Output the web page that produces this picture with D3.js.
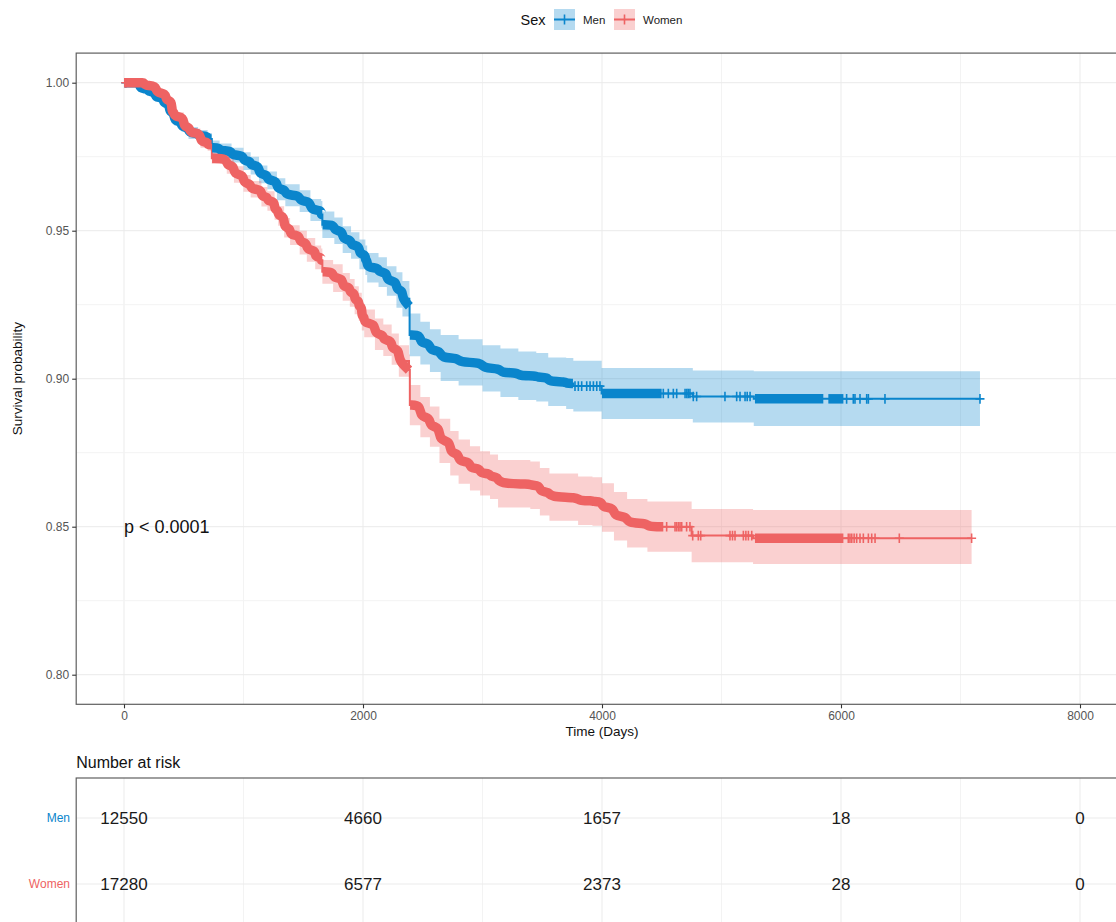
<!DOCTYPE html>
<html>
<head>
<meta charset="utf-8">
<script src="https://cdn.jsdelivr.net/npm/d3@7"></script>
<style>
  body { margin: 0; background: #fff; }
  text { font-family: "Liberation Sans", Arial, Helvetica, sans-serif; }
</style>
</head>
<body>
<div id="chart"></div>
<script>
// ---- data ----
var groups = ["Men", "Women"];
var colors = ["#0A85CC", "#EE6363"];

var menTime = [0, 100, 130, 200, 260, 330, 380, 420, 480, 540, 620, 700, 735, 800, 900, 1000, 1060, 1130, 1200, 1280,
  1350, 1470, 1560, 1650, 1660, 1760, 1830, 1900, 1970, 2020, 2035, 2130, 2200, 2280, 2330, 2388, 2390, 2480, 2560, 2650,
  2800, 3000, 3150, 3300, 3450, 3550, 3700, 3760, 3997, 4760, 5270, 7163];
var menSurv = [1, 1, .998, .997, .995, .993, .990, .987, .985, .983, .982, .981, .978, .977, .9755, .9735, .972, .969, .967, .964,
  .962, .960, .957, .9555, .952, .950, .947, .945, .942, .940, .9375, .936, .933, .930, .927, .9245, .9148, .912, .9095, .907,
  .9055, .9035, .902, .901, .9005, .899, .8984, .8975, .8950, .8940, .8932, .8932];
var menLower = [1, .9995, .997, .996, .994, .9915, .9885, .9855, .9835, .981, .980, .979, .9755, .9745, .973, .9705, .969, .966, .964, .9603,
  .9583, .9563, .9533, .951, .9475, .9455, .9425, .9405, .937, .935, .9325, .931, .928, .924, .921, .9185, .9076, .9048, .9023, .8992,
  .8977, .8957, .8938, .8928, .8923, .8908, .8898, .8889, .8864, .8852, .8840, .8840];
var menUpper = [1, 1, .999, .998, .996, .9945, .9915, .9885, .9865, .985, .984, .983, .9805, .9795, .978, .9765, .975, .972, .970, .9677,
  .9657, .9637, .9607, .960, .9565, .9545, .9515, .9495, .947, .945, .9425, .941, .938, .936, .933, .9305, .922, .9192, .9167, .9148,
  .9133, .9113, .9102, .9092, .9087, .9072, .907, .9061, .9036, .9028, .9025, .9025];

var womenTime = [0, 150, 170, 270, 350, 400, 420, 500, 550, 640, 700, 735, 860, 920, 1000, 1060, 1150, 1200, 1260, 1290,
  1340, 1390, 1470, 1530, 1600, 1650, 1660, 1750, 1830, 1890, 1930, 1965, 1990, 2010, 2100, 2170, 2240, 2300, 2385, 2392,
  2480, 2560, 2640, 2730, 2800, 2895, 2980, 3063, 3130, 3400, 3480, 3560, 3800, 3920, 4000, 4100, 4210, 4380, 4750, 5264, 7093];
var womenSurv = [1, 1, .999, .9965, .994, .990, .9885, .985, .983, .980, .979, .9745, .972, .969, .966, .964, .9615, .960, .957, .955,
  .951, .9485, .946, .9435, .941, .940, .9361, .934, .931, .929, .9265, .9243, .921, .9187, .915, .913, .910, .906, .9029, .8911,
  .887, .8838, .879, .8748, .872, .8697, .868, .8669, .8645, .864, .8618, .860, .8588, .8585, .8565, .8535, .8512, .850, .8470, .8461, .8461];
var womenLower = [1, .9995, .998, .9955, .993, .9885, .987, .9835, .9815, .978, .977, .9725, .9692, .9662, .9632, .9612, .9582, .9567, .9537, .9517,
  .9477, .9452, .942, .9395, .937, .936, .9321, .9293, .9263, .9243, .9218, .9196, .9163, .914, .9097, .9077, .9047, .9007, .8976, .8843,
  .8802, .877, .8715, .8673, .8645, .8622, .8605, .8594, .8565, .856, .8538, .852, .8506, .8503, .8483, .8453, .843, .8415, .838, .8374, .8374];
var womenUpper = [1, 1, 1, .9975, .995, .9915, .990, .9865, .9845, .982, .981, .9765, .9748, .9718, .9688, .9668, .9648, .9633, .9603, .9583,
  .9543, .9518, .950, .9475, .945, .944, .9401, .9387, .9357, .9337, .9312, .929, .9257, .9234, .9203, .9183, .9153, .9113, .9082, .8979,
  .8938, .8906, .8865, .8823, .8795, .8772, .8755, .8744, .8725, .872, .8698, .868, .867, .8667, .8647, .8617, .8594, .8585, .856, .8556, .8556];

// censoring: stretches where the "+" marks run together, then the single marks
var menCensorRuns = [[0, 733], [737, 1658], [1662, 2388], [2392, 3757], [4000, 4499], [5280, 5852], [5894, 6020]];
var menCensor = [15, 3774, 3802, 3830, 3872, 3900, 3928, 3956, 3983, 4513, 4555, 4597, 4625, 4695, 4710, 4722, 4736, 4764, 4792,
  5029, 5127, 5155, 5197, 5215, 5239, 6047, 6103, 6117, 6159, 6215, 6229, 6368, 7163];
var womenCensorRuns = [[0, 733], [737, 1658], [1662, 2385], [2394, 4513], [5280, 6020]];
var womenCensor = [15, 4541, 4611, 4625, 4640, 4653, 4667, 4708, 4736, 4759, 4806, 4826, 5071, 5092, 5113, 5183, 5204, 5225, 5253,
  6061, 6075, 6090, 6110, 6131, 6159, 6187, 6229, 6257, 6285, 6488, 7093];

var xTicks = [0, 2000, 4000, 6000, 8000];
var yTicks = [0.80, 0.85, 0.90, 0.95, 1.00];
var riskTimes = [0, 2000, 4000, 6000, 8000];
var menRisk = [12550, 4660, 1657, 18, 0];
var womenRisk = [17280, 6577, 2373, 28, 0];
var pText = "p < 0.0001";

var series = [
  {name: groups[0], color: colors[0], time: menTime, surv: menSurv, lo: menLower, hi: menUpper, runs: menCensorRuns, cens: menCensor, risk: menRisk},
  {name: groups[1], color: colors[1], time: womenTime, surv: womenSurv, lo: womenLower, hi: womenUpper, runs: womenCensorRuns, cens: womenCensor, risk: womenRisk}
];

// ---- layout ----
var W = 1116, H = 922;
var x = d3.scaleLinear().domain([0, 8000]).range([124, 1080]);
var y = d3.scaleLinear().domain([0.8, 1.0]).range([674.7, 82.7]);
var pLeft = x(-400), pRight = x(8400), pTop = y(1.01), pBottom = y(0.79);
var tblTop = 778, tblBottom = 960;
var rowY = d3.scalePoint().domain(groups).range([818, 884]);

var svg = d3.select("#chart").append("svg")
  .attr("width", W).attr("height", H);

svg.append("defs").append("clipPath").attr("id", "clip")
  .append("rect").attr("x", pLeft).attr("y", pTop).attr("width", pRight - pLeft).attr("height", pBottom - pTop);

// grid
var grid = svg.append("g");
d3.range(0, 8001, 1000).forEach(function(t) {
  var c = t % 2000 ? "#F3F3F3" : "#EBEBEB";
  grid.append("line").attr("x1", x(t)).attr("x2", x(t)).attr("y1", pTop).attr("y2", pBottom)
    .style("stroke", c).style("stroke-width", 1);
  grid.append("line").attr("x1", x(t)).attr("x2", x(t)).attr("y1", tblTop).attr("y2", tblBottom)
    .style("stroke", c).style("stroke-width", 1);
});
[0.8, 0.825, 0.85, 0.875, 0.9, 0.925, 0.95, 0.975, 1.0].forEach(function(v, i) {
  grid.append("line").attr("x1", pLeft).attr("x2", pRight).attr("y1", y(v)).attr("y2", y(v))
    .style("stroke", i % 2 ? "#F3F3F3" : "#EBEBEB").style("stroke-width", 1);
});
groups.forEach(function(g) {
  grid.append("line").attr("x1", pLeft).attr("x2", pRight).attr("y1", rowY(g)).attr("y2", rowY(g))
    .style("stroke", "#EBEBEB").style("stroke-width", 1);
});

var plot = svg.append("g").attr("clip-path", "url(#clip)");

function pts(s) {
  return s.time.map(function(t, i) { return {t: t, v: s.surv[i], lo: s.lo[i], hi: s.hi[i]}; });
}
function survAt(s, t) {
  var v = s.surv[0];
  for (var i = 0; i < s.time.length; i++) if (s.time[i] <= t) v = s.surv[i];
  return v;
}
// step corners inside a run of censor marks
function runPts(s, a, b) {
  var out = [{t: a, v: survAt(s, a)}];
  var prev = out[0].v;
  s.time.forEach(function(t, i) {
    if (t > a && t < b) {
      out.push({t: t, v: prev});
      out.push({t: t, v: s.surv[i]});
      prev = s.surv[i];
    }
  });
  out.push({t: b, v: survAt(s, b)});
  return out;
}

var area = d3.area().curve(d3.curveStepAfter)
  .x(function(d) { return x(d.t); })
  .y0(function(d) { return y(d.lo); })
  .y1(function(d) { return y(d.hi); });
var line = d3.line().curve(d3.curveStepAfter)
  .x(function(d) { return x(d.t); })
  .y(function(d) { return y(d.v); });
// the marks sit so close that they blur into one thick stroke along the steps
var runLine = d3.line().curve(d3.curveBasis)
  .x(function(d) { return x(d.t); })
  .y(function(d) { return y(d.v); });

// confidence bands
series.forEach(function(s) {
  plot.append("path").datum(pts(s)).attr("d", area)
    .style("fill", s.color).style("fill-opacity", 0.3).style("stroke", "none");
});
// survival steps
series.forEach(function(s) {
  plot.append("path").datum(pts(s)).attr("d", line)
    .style("fill", "none").style("stroke", s.color).style("stroke-width", 2);
});
// censor marks
var plus = "M-4.5,0H4.5M0,-4.8V4.8";
series.forEach(function(s) {
  s.runs.forEach(function(r) {
    plot.append("path").datum(runPts(s, r[0], r[1])).attr("d", runLine)
      .style("fill", "none").style("stroke", s.color).style("stroke-width", 9.5);
  });
  plot.selectAll(null).data(s.cens).enter().append("path")
    .attr("transform", function(t) { return "translate(" + x(t) + "," + y(survAt(s, t)) + ")"; })
    .attr("d", plus)
    .style("fill", "none").style("stroke", s.color).style("stroke-width", 1.6);
});

// panel borders
svg.append("rect").attr("x", pLeft).attr("y", pTop).attr("width", pRight - pLeft).attr("height", pBottom - pTop)
  .style("fill", "none").style("stroke", "#5f5f5f").style("stroke-width", 1.2);
svg.append("rect").attr("x", pLeft).attr("y", tblTop).attr("width", pRight - pLeft).attr("height", tblBottom - tblTop)
  .style("fill", "none").style("stroke", "#5f5f5f").style("stroke-width", 1.2);

// axes
var yAxis = svg.append("g").attr("transform", "translate(" + pLeft + ",0)")
  .call(d3.axisLeft(y).tickValues(yTicks).tickFormat(d3.format(".2f")).tickSize(4).tickPadding(3));
var xAxis = svg.append("g").attr("transform", "translate(0," + pBottom + ")")
  .call(d3.axisBottom(x).tickValues(xTicks).tickFormat(d3.format("d")).tickSize(4).tickPadding(3));
[yAxis, xAxis].forEach(function(a) {
  a.select(".domain").remove();
  a.selectAll(".tick line").style("stroke", "#333").style("stroke-width", 1.1);
  a.selectAll(".tick text").style("fill", "#555").style("font-size", "12px")
    .style("font-family", "Liberation Sans, Arial, sans-serif");
});

svg.append("text").attr("x", (pLeft + pRight) / 2).attr("y", 736).attr("text-anchor", "middle")
  .style("font-size", "13.5px").style("fill", "#111").text("Time (Days)");
svg.append("text").attr("transform", "translate(22," + ((pTop + pBottom) / 2) + ") rotate(-90)")
  .attr("text-anchor", "middle").style("font-size", "13.5px").style("fill", "#111").text("Survival probability");
svg.append("text").attr("x", x(0)).attr("y", y(0.85) + 6.5)
  .style("font-size", "18px").style("fill", "#111").text(pText);

// legend
var lg = svg.append("g");
lg.append("text").attr("x", 520.5).attr("y", 25).style("font-size", "14.5px").style("fill", "#111").text("Sex");
var keyX = [554, 614], labX = [583, 643];
series.forEach(function(s, i) {
  lg.append("rect").attr("x", keyX[i]).attr("y", 9).attr("width", 21).attr("height", 21)
    .style("fill", s.color).style("fill-opacity", 0.3);
  lg.append("line").attr("x1", keyX[i]).attr("x2", keyX[i] + 21).attr("y1", 19.5).attr("y2", 19.5)
    .style("stroke", s.color).style("stroke-width", 2);
  lg.append("line").attr("x1", keyX[i] + 10.5).attr("x2", keyX[i] + 10.5).attr("y1", 14.5).attr("y2", 24.5)
    .style("stroke", s.color).style("stroke-width", 1.6);
  lg.append("text").attr("x", labX[i]).attr("y", 24).style("font-size", "11.5px").style("fill", "#222").text(s.name);
});

// risk table
svg.append("text").attr("x", pLeft).attr("y", 768).style("font-size", "16px").style("fill", "#111").text("Number at risk");
series.forEach(function(s) {
  svg.append("text").attr("x", 70).attr("y", rowY(s.name)).attr("dy", "0.35em").attr("text-anchor", "end")
    .style("font-size", "12px").style("fill", s.color).text(s.name);
  svg.selectAll(null).data(s.risk).enter().append("text")
    .attr("x", function(d, i) { return x(riskTimes[i]); })
    .attr("y", rowY(s.name)).attr("dy", "0.36em").attr("text-anchor", "middle")
    .style("font-size", "17px").style("fill", "#1a1a1a")
    .text(function(d) { return d; });
});
</script>
</body>
</html>
